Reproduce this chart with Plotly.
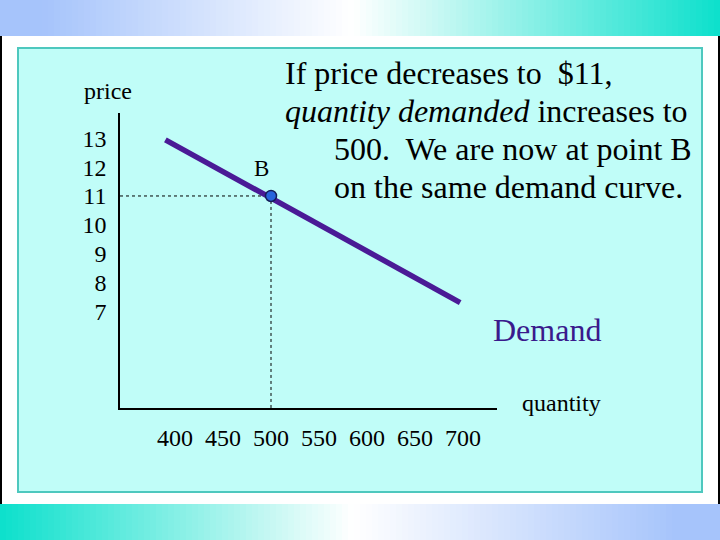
import plotly.graph_objects as go

# ---- data ----
demand_quantity = [390, 697]
demand_price = [12.95, 7.3]
point_b_quantity = [500]
point_b_price = [11]
x_tick_values = [400, 450, 500, 550, 600, 650, 700]
x_tick_labels = ["400", "450", "500", "550", "600", "650", "700"]
y_tick_values = [13, 12, 11, 10, 9, 8, 7]
y_tick_labels = ["13", "12", "11", "10", "9", "8", "7"]

X_RANGE = [342.7, 735.4]
Y_RANGE = [3.64, 13.88]

W, H = 720, 540
SERIF = "Liberation Serif, Times New Roman, serif"


def px(x):
    return x / W


def py(y):
    return 1 - y / H


def lerp_color(stops, t):
    for (t0, c0), (t1, c1) in zip(stops[:-1], stops[1:]):
        if t0 <= t <= t1:
            f = 0 if t1 == t0 else (t - t0) / (t1 - t0)
            c = [round(a + (b - a) * f) for a, b in zip(c0, c1)]
            return "rgb(%d,%d,%d)" % tuple(c)
    c = stops[-1][1]
    return "rgb(%d,%d,%d)" % tuple(c)


BLUE = (166, 196, 251)
TEAL = (12, 224, 204)
WHITE = (255, 255, 255)
top_stops = [(0, BLUE), (0.06, BLUE), (0.49, WHITE), (1.0, TEAL)]
bot_stops = [(0, TEAL), (0.49, WHITE), (0.94, BLUE), (1.0, BLUE)]

shapes = []
STRIP = 6
for i in range(0, W, STRIP):
    t = (i + STRIP / 2) / W
    shapes.append(dict(type="rect", xref="paper", yref="paper", layer="below",
                       x0=px(i), x1=px(i + STRIP + 0.5), y0=py(36), y1=py(0),
                       fillcolor=lerp_color(top_stops, t), line=dict(width=0)))
    shapes.append(dict(type="rect", xref="paper", yref="paper", layer="below",
                       x0=px(i), x1=px(i + STRIP + 0.5), y0=py(540), y1=py(504),
                       fillcolor=lerp_color(bot_stops, t), line=dict(width=0)))

# slide edges
shapes.append(dict(type="line", xref="paper", yref="paper", layer="below",
                   x0=px(1), x1=px(1), y0=py(504), y1=py(36),
                   line=dict(color="black", width=2)))
shapes.append(dict(type="line", xref="paper", yref="paper", layer="below",
                   x0=px(719), x1=px(719), y0=py(504), y1=py(36),
                   line=dict(color="black", width=2)))
# cyan panel
shapes.append(dict(type="rect", xref="paper", yref="paper", layer="below",
                   x0=px(18), x1=px(702), y0=py(492), y1=py(48),
                   fillcolor="rgb(192,253,248)",
                   line=dict(color="rgb(78,200,190)", width=2)))

fig = go.Figure()

# dotted guides from point B to the axes
fig.add_trace(go.Scatter(
    x=[X_RANGE[0], point_b_quantity[0], point_b_quantity[0]],
    y=[point_b_price[0], point_b_price[0], Y_RANGE[0]],
    mode="lines", line=dict(color="black", width=1, dash="dot"),
    hoverinfo="skip", showlegend=False))

# demand curve
fig.add_trace(go.Scatter(
    x=demand_quantity, y=demand_price, mode="lines",
    line=dict(color="rgb(74,26,150)", width=5.5),
    showlegend=False))

# point B
fig.add_trace(go.Scatter(
    x=point_b_quantity, y=point_b_price, mode="markers",
    marker=dict(size=11, color="rgb(40,100,220)",
                line=dict(color="rgb(20,30,90)", width=1.5)),
    showlegend=False))

annotations = [
    dict(x=point_b_quantity[0], y=point_b_price[0], xref="x", yref="y",
         text="B", showarrow=False, xshift=-10, yshift=27,
         xanchor="center", yanchor="middle",
         font=dict(family=SERIF, size=23, color="black")),
    dict(x=px(108), y=py(91), xref="paper", yref="paper", text="price",
         xanchor="center", yanchor="middle",
         showarrow=False, font=dict(family=SERIF, size=24, color="black")),
    dict(x=px(561), y=py(403), xref="paper", yref="paper", text="quantity",
         xanchor="center", yanchor="middle",
         showarrow=False, font=dict(family=SERIF, size=24, color="black")),
    dict(x=px(547), y=py(330), xref="paper", yref="paper", text="Demand",
         xanchor="center", yanchor="middle",
         showarrow=False, font=dict(family=SERIF, size=32, color="rgb(58,26,140)")),
]

text_lines = [
    ("If price decreases to  $11,", 283, 73),
    ("<i>quantity demanded</i> increases to", 283, 111),
    ("500.  We are now at point B", 332, 149),
    ("on the same demand curve.", 332, 187),
]
for txt, lx, ly in text_lines:
    annotations.append(dict(x=px(lx), y=py(ly), xref="paper", yref="paper",
                            xanchor="left", yanchor="middle", text=txt,
                            showarrow=False,
                            font=dict(family=SERIF, size=32, color="black")))

fig.update_layout(
    width=W, height=H,
    margin=dict(l=0, r=0, t=0, b=0),
    paper_bgcolor="white",
    plot_bgcolor="rgba(0,0,0,0)",
    shapes=shapes,
    annotations=annotations,
    xaxis=dict(domain=[px(120), px(497)], range=X_RANGE,
               showline=True, linecolor="black", linewidth=1.5,
               showgrid=False, zeroline=False, ticks="",
               tickvals=x_tick_values, ticktext=x_tick_labels,
               ticklabelstandoff=7,
               tickfont=dict(family=SERIF, size=24, color="black")),
    yaxis=dict(domain=[py(408), py(113)], range=Y_RANGE,
               showline=True, linecolor="black", linewidth=1.5,
               showgrid=False, zeroline=False, ticks="",
               tickvals=y_tick_values, ticktext=y_tick_labels,
               ticklabelstandoff=7,
               tickfont=dict(family=SERIF, size=24, color="black")),
)

fig.write_html(
    "out.html",
    config={"displayModeBar": False},
    post_script="document.body.style.margin='0';document.body.style.padding='0';"
                "document.body.style.overflow='hidden';",
)
